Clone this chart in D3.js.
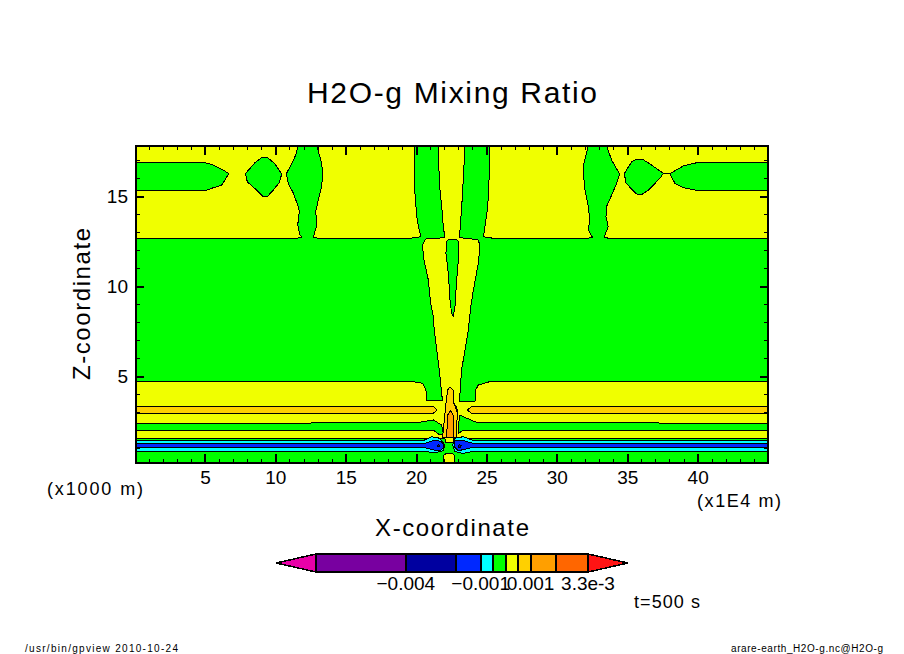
<!DOCTYPE html>
<html>
<head>
<meta charset="utf-8">
<script src="https://cdn.jsdelivr.net/npm/d3@7"></script>
<style>
  html, body { margin: 0; padding: 0; background: #fff; }
  text { font-family: "Liberation Sans", sans-serif; fill: #000; }
  .crisp { shape-rendering: crispEdges; }
  .axis path { display: none; }
  .axis line { stroke: #000; }
</style>
</head>
<body>
<div id="chart"></div>
<script>
// tick values, x in 1E4 m and z in 1000 m
const xMajor = [5, 10, 15, 20, 25, 30, 35, 40]
const xMinor = [1, 2, 3, 4, 6, 7, 8, 9, 11, 12, 13, 14, 16, 17, 18, 19, 21, 22, 23, 24, 26, 27, 28, 29, 31, 32, 33, 34, 36, 37, 38, 39, 41, 42, 43, 44]
const zMajor = [5, 10, 15]
const zMinor = [1, 2, 3, 4, 6, 7, 8, 9, 11, 12, 13, 14, 16, 17]

// colorbar: contour levels, tone names and labelled levels
const levels = [-0.0076, -0.004, -0.002, -0.001, -0.0005, 0, 0.0005, 0.001, 0.002, 0.0033]
const tones = ["#e800a8", "#7800a0", "#0000a0", "#0028ff", "#00ffff", "#00ff00", "#f0ff00", "#ffd000", "#ff9f00", "#ff6600", "#ff1414"]
const tipLow = -0.0092
const tipHigh = 0.0049
const levelLabels = [[-0.004, "\u22120.004"], [-0.001, "\u22120.001"], [0.001, "0.001"], [0.0033, "3.3e-3"]]

// a value inside each color class
const GREEN = -0.00025, YELLOW = 0.00025, GOLD = 0.00075, ORANGE = 0.0015, CYAN = -0.00075, BLUE = -0.0015, NAVY = -0.003

// contour outlines as [x, z]
const yellowLeft = [[0.1,17.8],[11.63,17.8],[11.45,17.28],[11.11,16.72],[10.78,16.24],[10.92,15.71],[11.28,15.15],[11.63,14.41],[11.7,14.13],[11.59,13.39],[11.75,12.83],[11.87,12.72],[11.5,12.65],[0.1,12.65]]
const yellowInnerLeft = [[12.94,17.8],[13.29,16.82],[13.36,16.26],[13.29,15.52],[13.05,14.78],[12.87,14.13],[12.94,13.39],[12.7,12.72],[13.05,12.65],[19.57,12.65],[20.33,12.74],[20.2,13.2],[20.08,13.67],[19.97,14.6],[19.87,15.71],[19.87,17.8]]
const yellowInnerRight = [[25.25,17.8],[25.2,16.26],[25.13,14.96],[25.06,14.22],[24.89,13.3],[24.78,12.74],[25.49,12.65],[32.16,12.65],[32.54,12.7],[32.23,13.11],[32.35,13.67],[32.23,14.41],[32,15.33],[31.88,16.26],[31.92,16.81],[32.23,17.8]]
const yellowRight = [[33.53,17.8],[33.89,17],[34.46,16.22],[34.25,15.7],[33.89,15.05],[33.53,14.41],[33.49,13.85],[33.65,13.3],[33.35,12.7],[33.72,12.65],[45,12.65],[45,17.8]]
const yellowCentre = [[21.58,17.8],[21.65,15.7],[21.82,14.41],[21.93,13.3],[22.05,12.68],[20.75,12.63],[20.63,12.55],[20.47,12.28],[20.51,11.63],[20.87,10.33],[21.03,9.04],[21.22,8.3],[21.29,7.55],[21.65,5.33],[21.81,4.04],[21.88,3.63],[20.75,3.63],[20.7,4.22],[20.46,4.59],[19.8,4.69],[17.43,4.72],[0.1,4.72],[0.1,1.54],[45,1.54],[45,4.72],[27.38,4.72],[25.24,4.69],[24.42,4.5],[24.23,4.22],[24.18,3.57],[23.07,3.57],[23.11,3.94],[23.23,5.33],[23.71,7.55],[23.88,8.85],[24.07,9.78],[24.42,11.26],[24.54,12.22],[24.42,12.55],[23.71,12.65],[23.07,12.68],[23.12,13.11],[23.24,14.41],[23.35,15.89],[23.47,17.8]]
const greenTongueLeft = [[0.1,16.85],[5,16.85],[5.6,16.72],[6.3,16.44],[6.69,16.24],[6.49,15.98],[6.19,15.61],[5.6,15.46],[5.07,15.32],[0.1,15.32]]
const greenDiamondLeft = [[7.87,16.24],[8.55,16.85],[9.07,17.15],[9.43,17.15],[9.98,16.78],[10.45,16.22],[10.28,15.74],[9.85,15.33],[9.43,14.96],[9.14,14.96],[8.67,15.33],[8.01,15.79]]
const greenDiamondRight = [[34.79,16.24],[35.31,16.9],[35.67,17.04],[36.09,17.04],[36.61,16.78],[37.56,16.26],[37.32,15.98],[36.5,15.33],[36.09,15.11],[35.67,15.11],[35.31,15.37],[34.91,15.74]]
const greenTongueRight = [[37.56,16.24],[38.03,16.24],[38.98,16.67],[40.05,16.87],[45,16.87],[45,15.31],[39.93,15.31],[38.98,15.46],[38.39,15.7],[38.03,16.24]]
const greenSliver = [[22.29,12.59],[22.88,12.59],[23,12.46],[23,11.44],[22.88,10.33],[22.76,8.85],[22.64,8.3],[22.52,8.48],[22.41,9.22],[22.29,10.7],[22.12,11.81],[22.17,12.46]]
const goldBandLeft = [[0.1,3.3],[21.22,3.3],[21.5,3.11],[21.22,2.93],[0.1,2.93]]
const goldBandRight = [[45,3.3],[23.94,3.3],[23.63,3.11],[23.94,2.93],[45,2.93]]
const greenBandLeft = [[0.1,2.37],[20.03,2.4],[21.22,2.56],[21.81,2.28],[21.93,1.81],[21.69,1.72],[21.22,2],[0.1,1.98]]
const greenBandRight = [[45,2.37],[24.3,2.42],[23.35,2.74],[23.07,2.83],[23,1.81],[23.35,2],[45,1.98]]
const goldCore = [[21.88,1.6],[22.05,2.93],[22.17,3.85],[22.28,4.31],[22.45,4.37],[22.64,4.22],[22.69,3.48],[22.92,3.11],[22.88,1.6]]
const orangeCore = [[22.17,1.6],[22.24,2.83],[22.45,3.07],[22.69,2.74],[22.69,1.6]]
const cyanLobeLeft = [[0.1,1.41],[20.51,1.41],[21.1,1.63],[21.69,1.54],[22.05,1.17],[21.93,0.85],[21.34,0.74],[20.51,0.81],[0.1,0.81]]
const cyanLobeRight = [[45,1.41],[24.06,1.41],[23.35,1.63],[22.76,1.54],[22.59,1.17],[22.76,0.8],[23.35,0.7],[24.06,0.81],[45,0.81]]
const blueLobeLeft = [[0.1,1.26],[20.63,1.26],[21.34,1.44],[21.81,1.35],[22,1.11],[21.81,0.89],[21.34,0.87],[20.63,1.02],[0.1,1.04]]
const blueLobeRight = [[45,1.26],[24.06,1.26],[23.35,1.41],[22.76,1.39],[22.69,1.07],[23,0.85],[23.47,0.93],[24.06,1.04],[45,1.04]]
const yellowNeck = [[22.03,1.56],[22.7,1.56],[22.62,1.28],[22.12,1.28]]
const yellowFoot = [[21.98,0.1],[21.98,0.6],[22.1,0.68],[22.6,0.7],[22.75,0.55],[22.75,0.1]]
const navySpotLeft = [[21.5,1.14],[21.62,1.18],[21.66,1.08],[21.52,1.06]]
const navySpotRight = [[23.05,1.18],[23.2,1.16],[23.18,1.02],[23.03,1.03]]
const goldFleck = [[22.83,3.32],[22.9,3.32],[22.9,3.02],[22.84,3.02]]

// drawn in this order, later ones on top
const regions = [
  [yellowLeft, YELLOW], [yellowInnerLeft, YELLOW], [yellowInnerRight, YELLOW], [yellowRight, YELLOW], [yellowCentre, YELLOW],
  [greenTongueLeft, GREEN], [greenDiamondLeft, GREEN], [greenDiamondRight, GREEN], [greenTongueRight, GREEN], [greenSliver, GREEN],
  [goldBandLeft, GOLD], [goldBandRight, GOLD], [greenBandLeft, GREEN], [greenBandRight, GREEN],
  [goldCore, GOLD], [orangeCore, ORANGE], [goldFleck, GOLD],
  [cyanLobeLeft, CYAN], [cyanLobeRight, CYAN], [blueLobeLeft, BLUE], [blueLobeRight, BLUE],
  [yellowNeck, YELLOW], [yellowFoot, YELLOW], [navySpotLeft, NAVY], [navySpotRight, NAVY]
]

const width = 904
const height = 654

const svg = d3.select("#chart")
  .append("svg")
    .attr("width", width)
    .attr("height", height)
    .style("display", "block")

const x = d3.scaleLinear().domain([0.1, 45]).range([136, 768])
const z = d3.scaleLinear().domain([0.167, 17.778]).range([463, 146])
const color = d3.scaleThreshold().domain(levels).range(tones)
const c = d3.scaleLinear().domain([levels[0], levels[levels.length - 1]]).range([316, 588])

const outline = d3.line().x(d => x(d[0])).y(d => z(d[1])).curve(d3.curveLinearClosed)

const frameLeft = x.range()[0], frameRight = x.range()[1], frameBottom = z.range()[0], frameTop = z.range()[1]

// keep the contours inside the frame
svg.append("clipPath").attr("id", "plot")
  .append("rect")
    .attr("x", frameLeft).attr("y", frameTop)
    .attr("width", frameRight - frameLeft).attr("height", frameBottom - frameTop)

const plot = svg.append("g").attr("clip-path", "url(#plot)").attr("class", "crisp")

plot.append("rect")
  .attr("x", frameLeft).attr("y", frameTop)
  .attr("width", frameRight - frameLeft).attr("height", frameBottom - frameTop)
  .attr("fill", color(GREEN))

plot.selectAll("path")
  .data(regions)
  .join("path")
    .attr("d", d => outline(d[0]))
    .attr("fill", d => color(d[1]))
    .attr("stroke", "#000")
    .attr("stroke-width", 1)
    .attr("stroke-linejoin", "round")

// inward ticks on all four sides, only the bottom and left have labels
function addAxis(axis, dx, dy, values, size, weight, labelled) {
  const g = svg.append("g")
    .attr("class", "axis crisp")
    .attr("transform", `translate(${dx},${dy})`)
    .call(axis.tickValues(values).tickSizeOuter(0).tickSizeInner(-size).tickPadding(labelled ? 8 : 0)
      .tickFormat(labelled ? d3.format("d") : ""))
  g.selectAll("line").attr("stroke-width", weight)
  g.selectAll("text").attr("font-size", 19)
  return g
}
addAxis(d3.axisBottom(x), 0, frameBottom, xMinor, 4, 1, false)
addAxis(d3.axisTop(x), 0, frameTop, xMinor, 4, 1, false)
addAxis(d3.axisBottom(x), 0, frameBottom, xMajor, 9, 2, true)
addAxis(d3.axisTop(x), 0, frameTop, xMajor, 9, 2, false)
addAxis(d3.axisLeft(z), frameLeft, 0, zMinor, 4, 1, false)
addAxis(d3.axisRight(z), frameRight, 0, zMinor, 4, 1, false)
addAxis(d3.axisLeft(z), frameLeft, 0, zMajor, 8, 2, true)
addAxis(d3.axisRight(z), frameRight, 0, zMajor, 8, 2, false)

svg.append("rect")
  .attr("class", "crisp")
  .attr("x", frameLeft).attr("y", frameTop)
  .attr("width", frameRight - frameLeft).attr("height", frameBottom - frameTop)
  .attr("fill", "none").attr("stroke", "#000").attr("stroke-width", 2)

// text helper, textLength makes the spacing follow the wide stroke font of the original
function label(txt, px, py, size, fitted, anchor) {
  return svg.append("text")
    .attr("x", px).attr("y", py)
    .attr("font-size", size)
    .attr("text-anchor", anchor || "start")
    .attr("textLength", fitted)
    .attr("lengthAdjust", "spacing")
    .text(txt)
}

label("H2O-g Mixing Ratio", 307, 103, 30, 290)
label("(x1000 m)", 47, 495, 18, 96)
label("(x1E4 m)", 697, 507, 18, 84)
label("X-coordinate", 375, 536, 24, 154)
label("t=500 s", 634, 608, 18, 66)
label("/usr/bin/gpview  2010-10-24", 25, 652, 10, 153)
label("arare-earth_H2O-g.nc@H2O-g", 731, 652, 10, 152)

svg.append("text")
  .attr("transform", "translate(90,380) rotate(-90)")
  .attr("font-size", 24)
  .attr("textLength", 152)
  .attr("lengthAdjust", "spacing")
  .text("Z-coordinate")

// colorbar
const barTop = 554
const barBottom = 572
const bar = svg.append("g").attr("class", "crisp")

bar.selectAll("rect")
  .data(d3.pairs(levels))
  .join("rect")
    .attr("x", d => c(d[0]))
    .attr("y", barTop)
    .attr("width", d => c(d[1]) - c(d[0]))
    .attr("height", barBottom - barTop)
    .attr("fill", d => color((d[0] + d[1]) / 2))
    .attr("stroke", "#000")
    .attr("stroke-width", 2)

const mid = (barTop + barBottom) / 2
bar.selectAll("polygon")
  .data([[tipLow, levels[0]], [tipHigh, levels[levels.length - 1]]])
  .join("polygon")
    .attr("points", d => [[c(d[0]), mid], [c(d[1]), barTop], [c(d[1]), barBottom]].join(" "))
    .attr("fill", d => color(d[0]))
    .attr("stroke", "#000")
    .attr("stroke-width", 1.5)

svg.selectAll(".level")
  .data(levelLabels)
  .join("text")
    .attr("class", "level")
    .attr("x", d => c(d[0]))
    .attr("y", 590)
    .attr("text-anchor", "middle")
    .attr("font-size", 19)
    .text(d => d[1])
</script>
</body>
</html>
